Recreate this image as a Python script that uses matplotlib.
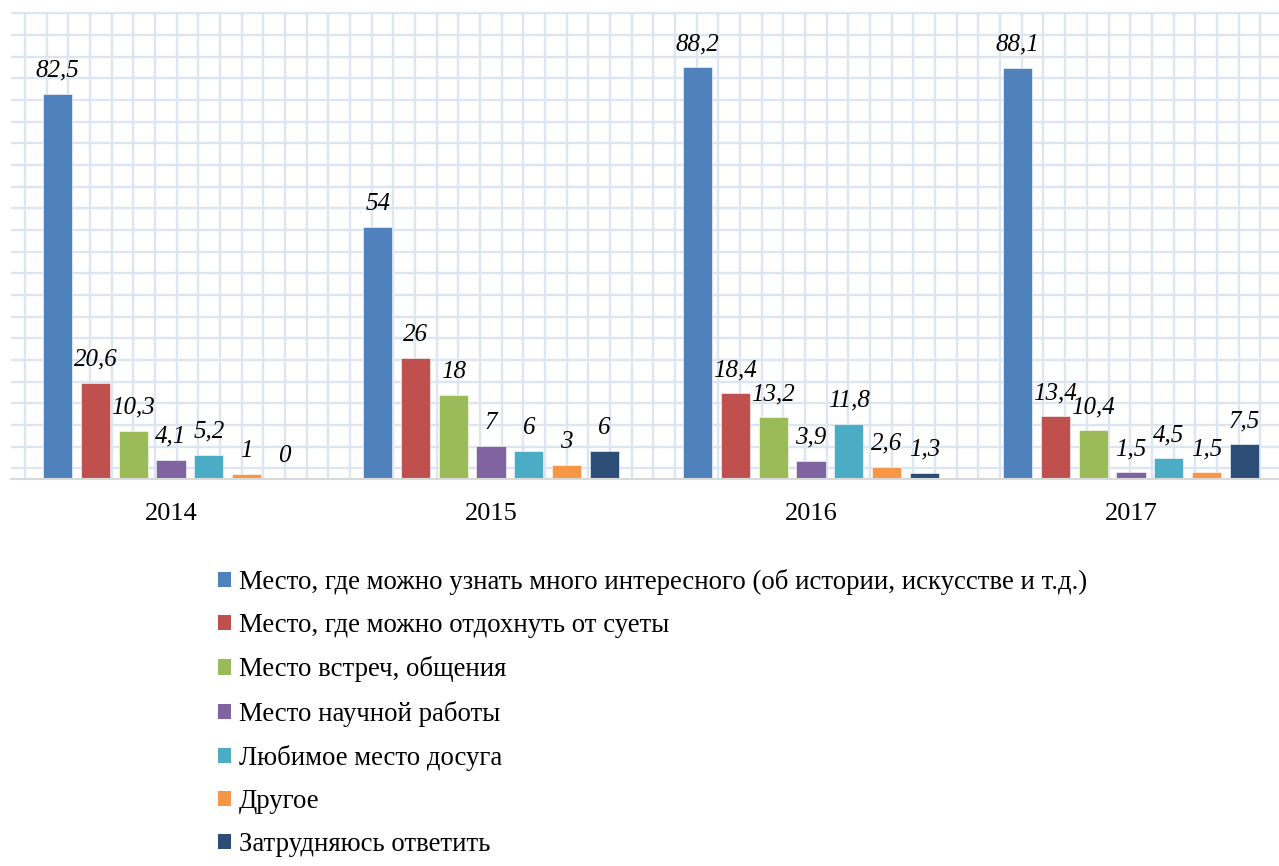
import numpy as np
import matplotlib
matplotlib.use("Agg")
import matplotlib.pyplot as plt
from matplotlib.patches import Patch

plt.rcParams['font.family'] = ['Liberation Serif', 'DejaVu Serif']

years = ["2014", "2015", "2016", "2017"]
series_names = [
    "Место, где можно узнать много интересного (об истории, искусстве и т.д.)",
    "Место, где можно отдохнуть от суеты",
    "Место встреч, общения",
    "Место научной работы",
    "Любимое место досуга",
    "Другое",
    "Затрудняюсь ответить",
]
s_interesting = [82.5, 54, 88.2, 88.1]
s_rest = [20.6, 26, 18.4, 13.4]
s_meet = [10.3, 18, 13.2, 10.4]
s_science = [4.1, 7, 3.9, 1.5]
s_leisure = [5.2, 6, 11.8, 4.5]
s_other = [1, 3, 2.6, 1.5]
s_hard = [0, 6, 1.3, 7.5]
series_values = [s_interesting, s_rest, s_meet, s_science, s_leisure, s_other, s_hard]
colors = ["#4F81BD", "#C0504D", "#9BBB59", "#8064A2", "#4BACC6", "#F79646", "#2C4D75"]

W, H = 1279, 866
fig = plt.figure(figsize=(W / 100, H / 100), dpi=100)

# plot area in pixels
left_px, top_px, right_px, bottom_px = 11, 12, 1291, 479
pos = [left_px / W, (H - bottom_px) / H, (right_px - left_px) / W, (bottom_px - top_px) / H]

# background graph-paper texture
bg = fig.add_axes(pos, zorder=0)
bg.set_xlim(0, right_px - left_px)
bg.set_ylim(bottom_px - top_px, 0)
step = 21.67
bg.set_xticks(np.arange(14, right_px - left_px, step))
bg.set_yticks(np.arange(1.3, bottom_px - top_px, step))
bg.grid(True, color="#DCE6F2", linewidth=1.7)
bg.tick_params(length=0, labelbottom=False, labelleft=False)
for s in bg.spines.values():
    s.set_visible(False)
bg.set_facecolor("white")

ax = fig.add_axes(pos, zorder=1)
ax.patch.set_alpha(0)
ax.set_xlim(-0.5, 3.5)
ax.set_ylim(0, 100)
x = np.arange(len(years))
bstep = 0.118
bw = 0.091
n = len(series_values)
for i, (vals, c) in enumerate(zip(series_values, colors)):
    xs = x + (i - (n - 1) / 2) * bstep
    ax.bar(xs, vals, width=bw, color=c, edgecolor="white", linewidth=0.4)
    for xi, v in zip(xs, vals):
        lab = ("%g" % v).replace(".", ",")
        ax.annotate(lab, (xi, v), xytext=(0, 12), textcoords="offset pixels",
                    ha="center", va="bottom", fontsize=18, style="italic")

ax.set_xticks(x)
ax.set_xticklabels(years, fontsize=19)
ax.tick_params(axis="x", length=0, pad=17)
ax.set_yticks([])
for k in ["top", "right", "left"]:
    ax.spines[k].set_visible(False)
ax.spines["bottom"].set_color("#D9D9D9")
ax.spines["bottom"].set_linewidth(1.5)

handles = [Patch(facecolor=c, edgecolor="none") for c in colors]
fig.legend(handles, series_names, loc="upper left",
           bbox_to_anchor=(218 / W, 1 - 569 / H), frameon=False,
           fontsize=19.3, handlelength=0.5, handleheight=0.5, handletextpad=0.27,
           labelspacing=0.68, borderpad=0, borderaxespad=0)

fig.savefig("out.png", dpi=100)
